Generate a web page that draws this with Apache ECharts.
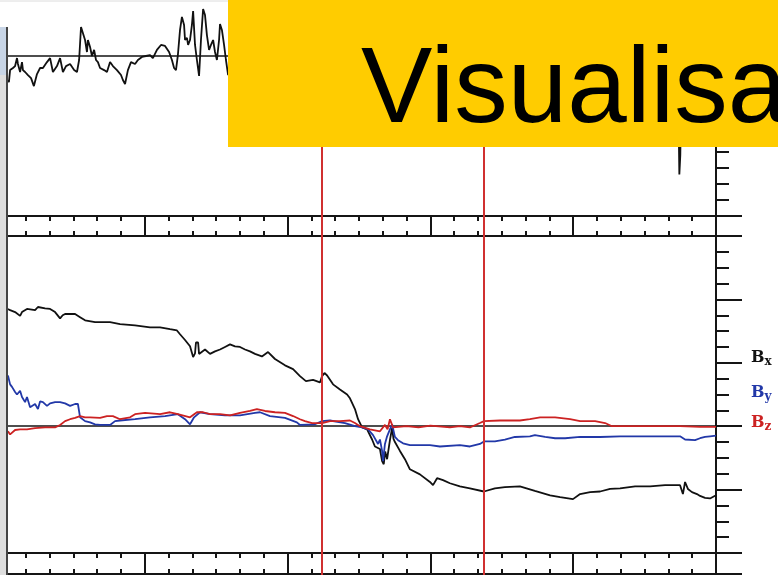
<!DOCTYPE html>
<html>
<head>
<meta charset="utf-8">
<script src="https://cdn.jsdelivr.net/npm/echarts@6/dist/echarts.min.js"></script>
<style>
html,body{margin:0;padding:0;background:#fff;}
#chart{width:778px;height:575px;}
</style>
</head>
<body>
<div id="chart"></div>
<script>
// ---- data (time in minutes from axis start, field values) ----
const topB = [[2.5,-15],[2.9,-16.3],[3.4,-8.8],[4.6,-7.5],[5.5,-6.3],[6.3,-1.3],[6.7,-5],[7.6,-10],[8.4,-3.8],[8.8,-8.8],[9.7,-10],[10.9,-11.9],[12.2,-13.8],[13.4,-18.8],[14.7,-11.3],[16.0,-7.5],[17.2,-7.5],[18.9,-3.8],[20.2,-1.3],[21.4,-10],[23.1,-6.3],[24.4,-1.3],[25.6,-10],[26.9,-6.3],[28.6,-5],[30.3,-8.8],[31.5,-10],[32.4,-2.5],[33.2,18.1],[34.0,17.5],[34.9,10],[35.7,2.5],[36.1,10],[37.0,5.6],[37.8,0],[38.7,3.8],[39.5,-2.5],[40.3,-3.8],[41.2,-7.5],[42.9,-8.8],[44.1,-10],[45.4,-3.8],[46.6,-6.3],[48.3,-8.8],[50.0,-11.9],[50.8,-15],[51.7,-17.5],[52.9,-8.8],[54.2,-3.8],[55.9,-5],[57.1,-2.5],[58.8,-0.6],[60.5,0],[62.2,0.6],[63.4,-1.3],[65.1,3.8],[66.8,6.9],[68.5,6.3],[70.2,2.5],[71.4,-2.5],[72.3,-7.5],[73.1,-8.8],[73.9,0.6],[74.8,16.3],[75.6,24.4],[76.5,19.4],[76.9,10],[77.7,11.3],[78.2,6.9],[79.0,10],[79.8,19.4],[80.3,28.1],[81.1,6.9],[81.9,-2.5],[82.8,-12.5],[83.6,10],[84.5,29.4],[85.3,25.6],[86.1,13.1],[87.0,3.8],[87.8,6.9],[88.7,10],[89.5,2.5],[90.3,-2.5],[91.2,10],[91.6,20],[92.4,16.3],[93.3,6.9],[94.1,-2.5],[95.0,-11.9],[97,5],[100,15],[104,-8],[108,12],[112,-5],[116,20],[120,3],[125,-10],[130,8],[135,-4],[140,14],[145,-12],[150,6],[156,-6],[162,18],[168,-2],[174,10],[180,-14],[186,4],[192,16],[198,-8],[204,9],[210,-3],[216,12],[222,-10],[228,5],[234,22],[240,-6],[246,8],[252,-15],[258,3],[264,11],[270,-9],[276,7],[281,-4],[283.5,12],[284.2,-30],[284.6,-74],[285.0,-62],[285.4,-20],[287,6],[290,-8],[294,10],[297,-3],[300,4]];

const bx = [[2.5,18.5],[3.4,18.3],[5.5,18.0],[7.6,17.4],[8.4,18.0],[10.5,18.5],[13.9,18.3],[15.1,18.8],[18.1,18.6],[20.2,18.5],[22.3,18.0],[24.4,17.0],[25.5,17.5],[26.5,17.7],[30.7,17.7],[32.8,17.2],[34.9,16.7],[39.1,16.4],[45.4,16.4],[49.6,16.1],[55.9,15.9],[62.2,15.6],[66.4,15.6],[70.6,15.3],[73.5,15.1],[74.8,14.5],[76.9,13.6],[79.0,12.6],[80.3,10.9],[81.1,11.5],[81.5,13.2],[82.4,13.2],[82.8,11.4],[85.3,12.1],[87.4,11.4],[89.5,11.8],[91.6,12.1],[93.7,12.5],[95.8,12.9],[97.9,12.6],[100.0,12.5],[102.1,12.1],[104.2,11.8],[106.3,11.4],[109.2,11.0],[111.8,11.7],[114.7,10.6],[118.9,9.6],[122.3,9.0],[125.2,7.9],[127.7,7.1],[130.7,7.3],[133.6,6.9],[134.5,7.9],[135.5,8.4],[136.6,8.0],[139.1,6.6],[142.0,5.8],[145.0,5.0],[146.2,4.4],[148.3,2.7],[149.6,1.1],[151.3,-0.2],[153.4,-0.5],[155.5,-2.1],[156.7,-3.2],[158.8,-3.6],[159.7,-5.5],[160.4,-6.0],[161.0,-4.0],[161.8,-5.2],[163.0,-2.2],[163.9,-0.3],[164.5,-2.0],[165.1,-2.5],[167.2,-3.9],[169.3,-5.2],[171.4,-6.8],[175.6,-7.6],[179.8,-8.8],[181.1,-9.3],[182.8,-8.2],[185.3,-8.5],[188.2,-9.0],[192.4,-9.5],[196.6,-9.8],[202.5,-10.3],[207.1,-9.8],[211.3,-9.6],[217.6,-9.5],[223.9,-10.2],[230.3,-10.9],[234.5,-11.2],[239.9,-11.5],[242.9,-10.7],[247.1,-10.4],[251.3,-10.3],[255.5,-9.9],[259.7,-9.8],[266.0,-9.5],[272.3,-9.5],[278.6,-9.3],[284.9,-9.3],[286.1,-10.7],[287.0,-8.8],[288.2,-9.9],[289.9,-10.4],[292.0,-10.7],[293.3,-11.0],[295.4,-11.3],[297.5,-11.4],[300.0,-10.9]];

const by = [[2.5,8.0],[3.4,6.6],[4.2,6.2],[5.5,5.4],[6.3,5.0],[7.6,5.6],[8.4,4.6],[9.7,3.8],[10.5,4.6],[11.8,3.0],[13.9,3.5],[15.1,2.7],[16.0,3.9],[17.2,3.8],[18.9,3.2],[20.2,3.6],[22.3,3.8],[24.4,3.8],[26.5,3.6],[28.6,3.2],[30.7,3.5],[31.9,3.5],[32.8,1.4],[34.9,0.8],[37.0,0.6],[39.1,0.3],[41.2,0.2],[45.4,0.2],[47.5,0.8],[49.6,0.9],[55.9,1.1],[62.2,1.4],[68.5,1.6],[73.9,1.9],[76.9,1.1],[79.0,0.3],[80.7,1.4],[83.2,2.2],[87.4,1.9],[93.7,1.7],[100.0,1.7],[106.3,2.1],[108.4,2.2],[112.6,1.6],[118.9,1.3],[123.9,0.6],[125.2,0.2],[131.5,0.3],[134.5,0.8],[137.8,0.9],[144.1,0.5],[148.3,0.0],[151.3,-0.2],[153.8,-0.5],[155.9,-1.4],[158.0,-2.8],[158.8,-2.1],[159.7,-3.9],[160.1,-5.5],[160.9,-2.8],[161.8,-1.6],[163.0,-0.5],[163.9,0.3],[165.1,-1.7],[166.4,-2.2],[168.5,-2.7],[171.4,-3.0],[179.8,-3.0],[184.0,-3.2],[192.4,-3.0],[196.6,-3.2],[200.8,-2.8],[202.5,-2.4],[207.1,-2.4],[211.3,-2.1],[215.5,-1.7],[221.8,-1.6],[223.9,-1.4],[228.2,-1.7],[232.4,-1.9],[236.6,-1.9],[242.9,-1.7],[251.3,-1.7],[259.7,-1.6],[268.1,-1.6],[276.5,-1.6],[284.9,-1.6],[287.0,-2.1],[291.2,-2.2],[293.3,-1.9],[295.4,-1.7],[297.5,-1.6],[300.0,-1.5]];

const bz = [[2.5,-0.8],[3.4,-1.3],[5.5,-0.6],[7.6,-0.5],[10.5,-0.5],[13.9,-0.3],[18.1,-0.2],[22.3,-0.2],[24.4,0.2],[26.5,0.8],[28.6,1.1],[30.7,1.3],[32.8,1.6],[34.9,1.4],[37.0,1.4],[41.2,1.3],[44.1,1.6],[46.6,1.6],[49.6,1.1],[53.8,1.4],[55.9,1.9],[60.1,2.1],[66.4,1.9],[70.6,2.2],[73.9,1.9],[79.0,1.4],[81.9,2.2],[84.5,2.2],[87.4,1.9],[91.6,1.9],[95.8,1.7],[100.0,2.1],[104.2,2.4],[107.1,2.7],[110.5,2.4],[114.7,2.2],[118.9,2.1],[122.3,1.6],[125.2,1.1],[127.3,0.8],[130.3,0.5],[134.5,0.5],[137.8,0.8],[142.0,0.8],[146.2,0.9],[148.3,0.5],[150.4,0.0],[154.6,-0.5],[158.8,-0.8],[160.9,0.2],[162.0,-0.5],[163.0,1.1],[163.9,0.2],[164.3,-0.2],[170.0,0.0],[175.0,-0.2],[180.0,0.1],[188.2,-0.2],[192.4,0.0],[196.6,-0.2],[200.8,0.5],[202.5,0.8],[209.2,0.9],[217.6,0.9],[221.8,1.1],[226.1,1.4],[232.4,1.4],[238.7,1.1],[242.9,0.8],[249.2,0.8],[253.4,0.5],[256.3,0.0],[263.9,0.0],[272.3,0.0],[284.9,0.0],[293.3,-0.1],[300.0,-0.1]];

const eventTimes = [134.3, 202.6];
const seriesNames = ['Bx', 'By', 'Bz'];
const seriesSubs = ['x', 'y', 'z'];
const bannerText = 'Visualisa';

// ---- styling ----
const INK = '#151515';
const COLORS = ['#111111', '#2238a8', '#cc2222'];
const L = 2, W = 714;
const hidden = {show: false};

function stripX(gridIndex, position) {
  return {
    gridIndex, type: 'value', min: 0, max: 300, interval: 60, position,
    axisLine: {show: true, onZero: false, lineStyle: {color: INK, width: 2}},
    axisTick: {show: true, inside: true, length: 20, lineStyle: {color: INK, width: 2}},
    minorTick: {show: true, splitNumber: 6, length: 5, lineStyle: {color: INK, width: 2}},
    axisLabel: hidden, splitLine: hidden
  };
}
function stripY(gridIndex) {
  return {
    gridIndex, type: 'value', min: 0, max: 1, interval: 1, position: 'right',
    axisLine: {show: true, onZero: false, lineStyle: {color: INK, width: 2}},
    axisTick: {show: true, inside: false, length: 26, lineStyle: {color: INK, width: 2}},
    axisLabel: hidden, splitLine: hidden
  };
}
function zeroX(gridIndex) {
  return {
    gridIndex, type: 'value', min: 0, max: 300, interval: 60,
    axisLine: {show: true, onZero: true, lineStyle: {color: INK, width: 1.5}},
    axisTick: hidden, axisLabel: hidden, splitLine: hidden
  };
}

const chart = echarts.init(document.getElementById('chart'), null, {renderer: 'canvas'});
chart.setOption({
  animation: false,
  backgroundColor: '#ffffff',
  grid: [
    {left: L, width: W, top: -8, height: 224, outerBoundsMode: 'none'},
    {left: L, width: W, top: 216, height: 20, outerBoundsMode: 'none'},
    {left: L, width: W, top: 236, height: 317, outerBoundsMode: 'none'},
    {left: L, width: W, top: 553, height: 21, outerBoundsMode: 'none'},
    {left: L, width: W, top: 0, height: 575, outerBoundsMode: 'none'}
  ],
  xAxis: [
    zeroX(0),
    stripX(1, 'top'),
    stripX(1, 'bottom'),
    zeroX(2),
    stripX(3, 'top'),
    stripX(3, 'bottom'),
    {gridIndex: 4, type: 'value', min: 0, max: 300, show: false}
  ],
  yAxis: [
    {gridIndex: 0, type: 'value', min: -100, max: 40, interval: 10, position: 'right',
     axisLine: {show: true, onZero: false, lineStyle: {color: INK, width: 2}},
     axisTick: {show: true, inside: false, length: 13, lineStyle: {color: INK, width: 2}},
     axisLabel: hidden, splitLine: hidden},
    stripY(1),
    {gridIndex: 2, type: 'value', min: -20, max: 30, interval: 10, position: 'right',
     axisLine: {show: true, onZero: false, lineStyle: {color: INK, width: 2}},
     axisTick: {show: true, inside: false, length: 26, lineStyle: {color: INK, width: 2}},
     minorTick: {show: true, splitNumber: 4, length: 13, lineStyle: {color: INK, width: 2}},
     axisLabel: hidden, splitLine: hidden},
    stripY(3),
    {gridIndex: 4, type: 'value', min: 0, max: 1, show: false}
  ],
  legend: seriesNames.map((n, i) => ({
    data: [{name: n, textStyle: {color: COLORS[i]}}],
    left: 741, top: [343, 378, 408][i],
    orient: 'vertical', icon: 'rect', itemWidth: 0, itemHeight: 1,
    selectedMode: false,
    formatter: name => 'B{s|' + seriesSubs[seriesNames.indexOf(name)] + '}',
    textStyle: {fontFamily: 'DejaVu Serif', fontSize: 16, fontWeight: 'bold', lineHeight: 20,
      rich: {s: {fontFamily: 'DejaVu Serif', fontSize: 12, fontWeight: 'bold', verticalAlign: 'bottom', lineHeight: 11}}}
  })),
  series: [
    {type: 'line', name: 'top', xAxisIndex: 0, yAxisIndex: 0, data: topB, showSymbol: false,
     lineStyle: {color: '#111', width: 1.8}, itemStyle: {color: '#111'}, silent: true},
    {type: 'line', name: 'Bx', xAxisIndex: 3, yAxisIndex: 2, data: bx, showSymbol: false,
     lineStyle: {color: COLORS[0], width: 1.8}, itemStyle: {color: COLORS[0]}, silent: true},
    {type: 'line', name: 'By', xAxisIndex: 3, yAxisIndex: 2, data: by, showSymbol: false,
     lineStyle: {color: COLORS[1], width: 1.8}, itemStyle: {color: COLORS[1]}, silent: true},
    {type: 'line', name: 'Bz', xAxisIndex: 3, yAxisIndex: 2, data: bz, showSymbol: false,
     lineStyle: {color: COLORS[2], width: 1.8}, itemStyle: {color: COLORS[2]}, silent: true},
    {type: 'line', name: 'events', xAxisIndex: 6, yAxisIndex: 4, data: [], silent: true,
     markLine: {silent: true, symbol: ['none', 'none'], label: {show: false},
       lineStyle: {color: '#d03030', width: 2, type: 'solid'},
       data: eventTimes.map(t => ({xAxis: t}))}}
  ],
  graphic: [
    {type: 'line', z: 40, shape: {x1: 0, y1: 1, x2: 228, y2: 1}, style: {stroke: '#dcdcdc', lineWidth: 1}},
    {type: 'rect', z: 50, shape: {x: 0, y: 27, width: 6, height: 548}, style: {fill: '#dedede'}},
    {type: 'rect', z: 51, shape: {x: 0, y: 27, width: 6, height: 48}, style: {fill: '#c8d5e6'}},
    {type: 'line', z: 52, shape: {x1: 7, y1: 27, x2: 7, y2: 575}, style: {stroke: '#444', lineWidth: 2}},
    {type: 'rect', z: 100, shape: {x: 228, y: 0, width: 550, height: 147}, style: {fill: '#FFCC00'}},
    {type: 'text', z: 101, x: 361, y: 92,
     style: {text: bannerText, font: '107px "Liberation Sans", Arial, sans-serif', fill: '#000', verticalAlign: 'middle', align: 'left'}}
  ]
});
</script>
</body>
</html>
